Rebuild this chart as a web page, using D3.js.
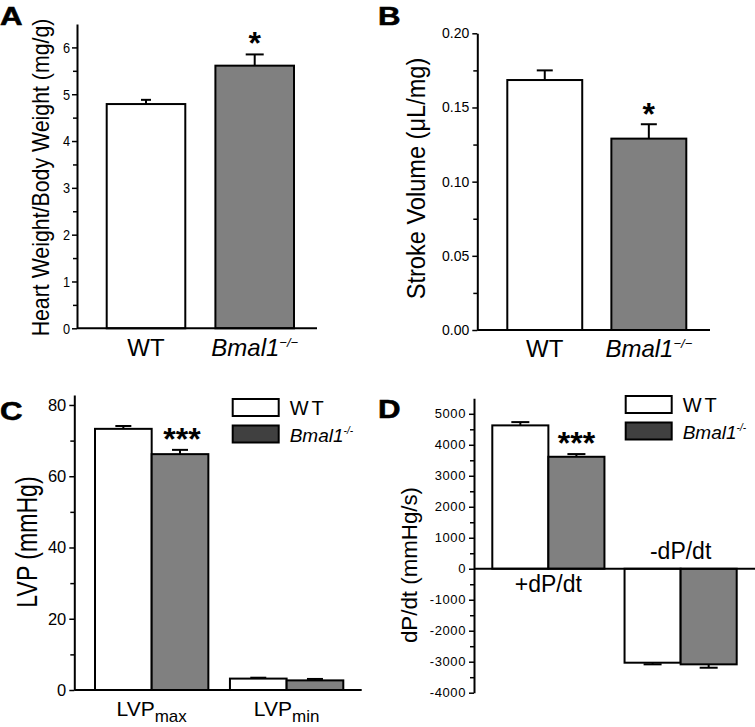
<!DOCTYPE html>
<html>
<head>
<meta charset="utf-8">
<script src="https://cdn.jsdelivr.net/npm/d3@7"></script>
<style>
  body { margin: 0; background: #fff; }
  svg { display: block; }
  text { font-family: "Liberation Sans", Arial, sans-serif; fill: #000; }
</style>
</head>
<body>
<script>
// ---- data ----
var hwCategories = ["WT", "Bmal1"];
var hwMeans = [4.79, 5.61];
var hwErrors = [0.09, 0.24];
var hwTicks = [0, 1, 2, 3, 4, 5, 6];

var svCategories = ["WT", "Bmal1"];
var svMeans = [0.1685, 0.129];
var svErrors = [0.0065, 0.0097];
var svTicks = [0, 0.05, 0.10, 0.15, 0.20];

var lvpGroups = ["LVPmax", "LVPmin"];
var lvpWT = [73.3, 3.2];
var lvpWTErr = [0.8, 0.25];
var lvpKO = [66.2, 2.7];
var lvpKOErr = [1.2, 0.4];
var lvpTicks = [0, 20, 40, 60, 80];

var dpGroups = ["+dP/dt", "-dP/dt"];
var dpWT = [4626, -3032];
var dpWTErr = [106, 53];
var dpKO = [3613, -3085];
var dpKOErr = [87, 109];
var dpTicks = [-4000, -3000, -2000, -1000, 0, 1000, 2000, 3000, 4000, 5000];

var series = ["WT", "Bmal1"];
var fills = { WT: "#ffffff", Bmal1: "#808080" };

var svg = d3.select("body").append("svg")
    .attr("width", 755).attr("height", 727);

// y axis with major labelled ticks and small unlabelled minor ticks
function drawYAxis(g, y, major, minor, fmt, size, sx, spacing) {
    g.append("g")
        .call(d3.axisLeft(y).tickValues(minor).tickFormat("").tickSize(4).tickSizeOuter(0))
        .call(function(a) { a.select(".domain").remove(); })
        .selectAll("line").attr("stroke-width", 1.5);
    var ax = g.append("g")
        .call(d3.axisLeft(y).tickValues(major).tickFormat(fmt).tickSize(5).tickSizeOuter(0).tickPadding(3));
    ax.select(".domain").attr("stroke-width", 2);
    ax.selectAll("line").attr("stroke-width", 1.5);
    ax.selectAll("text")
        .attr("font-family", "'Liberation Sans', Arial, sans-serif")
        .attr("font-size", size)
        .attr("letter-spacing", spacing || 0)
        .attr("transform", "scale(" + (sx || 1) + ",1)");
}

function bar(g, x0, w, y, v, e, fill, cap) {
    var y0 = y(0), y1 = y(v), ye = v >= 0 ? y(v + e) : y(v - e);
    var cx = x0 + w / 2;
    g.append("line").attr("x1", cx).attr("x2", cx).attr("y1", y1).attr("y2", ye)
        .attr("stroke", "#000").attr("stroke-width", 2);
    g.append("line").attr("x1", cx - cap / 2).attr("x2", cx + cap / 2).attr("y1", ye).attr("y2", ye)
        .attr("stroke", "#000").attr("stroke-width", 2);
    g.append("rect")
        .attr("x", x0).attr("width", w)
        .attr("y", Math.min(y0, y1)).attr("height", Math.abs(y0 - y1))
        .attr("fill", fill).attr("stroke", "#000").attr("stroke-width", 2);
    return ye;
}

function koLabel(sel, supSize, dy, sup) {
    sel.append("tspan").attr("font-style", "italic").text("Bmal1");
    sel.append("tspan").attr("font-style", "italic").attr("font-size", supSize).attr("dy", dy).text(sup);
}

function panelLetter(x, y, s) {
    svg.append("text")
        .attr("transform", "translate(" + x + "," + y + ") scale(1.2,1)")
        .attr("font-size", 26).attr("font-weight", "bold")
        .attr("stroke", "#000").attr("stroke-width", 0.6)
        .text(s);
}

// rotated axis title; sx squeezes it along its length (the original uses a narrow face)
function yLabel(x, y, s, size, sx, spacing) {
    svg.append("text")
        .attr("transform", "translate(" + x + "," + y + ") rotate(-90) scale(" + sx + ",1)")
        .attr("text-anchor", "middle").attr("font-size", size)
        .attr("letter-spacing", spacing || 0)
        .text(s);
}

function stars(g, x, y, s) {
    g.append("text").attr("x", x).attr("y", y)
        .attr("text-anchor", "middle").attr("font-size", 32).attr("font-weight", "bold").text(s);
}

function legend(x, y) {
    var g = svg.append("g").attr("transform", "translate(" + x + "," + y + ")");
    g.append("rect").attr("x", 0).attr("y", 0).attr("width", 46).attr("height", 17)
        .attr("fill", "#fff").attr("stroke", "#000").attr("stroke-width", 2);
    g.append("rect").attr("x", 0).attr("y", 26.5).attr("width", 46).attr("height", 17)
        .attr("fill", "#404040").attr("stroke", "#000").attr("stroke-width", 2);
    g.append("text").attr("x", 57).attr("y", 16).attr("font-size", 20)
        .attr("letter-spacing", 3).text("WT");
    var t = g.append("text").attr("x", 57).attr("y", 43).attr("font-size", 19);
    koLabel(t, 10, -8, "-/-");
}

// ---- panel A ----
(function() {
    var left = 77, bottom = 328.3, top = 24, right = 317;
    var g = svg.append("g");
    var y = d3.scaleLinear().domain([0, 6.5]).range([bottom, top]);
    var x = d3.scaleBand().domain(hwCategories).range([106.7, 294]).paddingInner(0.277);
    drawYAxis(g.append("g").attr("transform", "translate(" + left + ",0)"), y,
        hwTicks, d3.range(0.5, 6.5, 1), d3.format("d"), 15, 0.85);
    var caps = [10, 18];
    hwCategories.forEach(function(c, i) {
        var ye = bar(g, x(c), x.bandwidth(), y, hwMeans[i], hwErrors[i], fills[series[i]], caps[i]);
        if (i === 1) stars(g, x(c) + x.bandwidth() / 2, ye, "*");
    });
    g.append("line").attr("x1", left).attr("x2", right).attr("y1", bottom).attr("y2", bottom)
        .attr("stroke", "#000").attr("stroke-width", 2);
    g.append("text").attr("x", x("WT") + x.bandwidth() / 2).attr("y", bottom + 28)
        .attr("text-anchor", "middle").attr("font-size", 24).text("WT");
    var t = g.append("text").attr("x", x("Bmal1") + x.bandwidth() / 2).attr("y", bottom + 28)
        .attr("text-anchor", "middle").attr("font-size", 24);
    koLabel(t, 13, -9, "\u2212/\u2212");
    yLabel(49.3, 177.5, "Heart Weight/Body Weight (mg/g)", 24.5, 0.87);
    panelLetter(0, 25, "A");
})();

// ---- panel B ----
(function() {
    var left = 477.3, bottom = 330, top = 33.3, right = 710;
    var g = svg.append("g");
    var y = d3.scaleLinear().domain([0, 0.20]).range([bottom, top]);
    var x = d3.scaleBand().domain(svCategories).range([507.3, 686.3]).paddingInner(0.28);
    drawYAxis(g.append("g").attr("transform", "translate(" + left + ",0)"), y,
        svTicks, d3.range(0.025, 0.2, 0.05), d3.format(".2f"), 14, 1);
    svCategories.forEach(function(c, i) {
        var ye = bar(g, x(c), x.bandwidth(), y, svMeans[i], svErrors[i], fills[series[i]], 16);
        if (i === 1) stars(g, x(c) + x.bandwidth() / 2, ye + 1, "*");
    });
    g.append("line").attr("x1", left).attr("x2", right).attr("y1", bottom).attr("y2", bottom)
        .attr("stroke", "#000").attr("stroke-width", 2);
    g.append("text").attr("x", x("WT") + x.bandwidth() / 2).attr("y", bottom + 27)
        .attr("text-anchor", "middle").attr("font-size", 24).text("WT");
    var t = g.append("text").attr("x", x("Bmal1") + x.bandwidth() / 2).attr("y", bottom + 27)
        .attr("text-anchor", "middle").attr("font-size", 24);
    koLabel(t, 13, -9, "\u2212/\u2212");
    yLabel(425, 178.5, "Stroke Volume (\u03bcL/mg)", 26.5, 0.89);
    panelLetter(378, 25, "B");
})();

// ---- panel C ----
(function() {
    var left = 74.3, bottom = 690, top = 395, right = 361.7;
    var g = svg.append("g");
    var y = d3.scaleLinear().domain([0, 82.8]).range([bottom, top]);
    var x0 = d3.scaleBand().domain(lvpGroups).range([95, 343.3]).paddingInner(0.16);
    var x1 = d3.scaleBand().domain(series).range([0, x0.bandwidth()]);
    drawYAxis(g.append("g").attr("transform", "translate(" + left + ",0)"), y,
        lvpTicks, d3.range(10, 81, 20), d3.format("d"), 16.5, 1);
    lvpGroups.forEach(function(grp, i) {
        bar(g, x0(grp) + x1("WT"), x1.bandwidth(), y, lvpWT[i], lvpWTErr[i], fills.WT, 16);
        var ye = bar(g, x0(grp) + x1("Bmal1"), x1.bandwidth(), y, lvpKO[i], lvpKOErr[i], fills.Bmal1, 16);
        if (i === 0) stars(g, x0(grp) + x1("Bmal1") + x1.bandwidth() / 2 + 2, ye, "***");
    });
    g.append("line").attr("x1", left).attr("x2", right).attr("y1", bottom).attr("y2", bottom)
        .attr("stroke", "#000").attr("stroke-width", 2);
    [["LVP", "max"], ["LVP", "min"]].forEach(function(p, i) {
        var t = g.append("text").attr("x", x0(lvpGroups[i]) + x0.bandwidth() / 2).attr("y", bottom + 26)
            .attr("text-anchor", "middle").attr("font-size", 21);
        t.append("tspan").text(p[0]);
        t.append("tspan").attr("font-size", 17).attr("dy", 6).text(p[1]);
    });
    yLabel(36.7, 542, "LVP (mmHg)", 30, 0.77);
    legend(232.7, 399);
    panelLetter(0, 420, "C");
})();

// ---- panel D ----
(function() {
    var left = 474, top = 398.3, bottom = 692.7, right = 755;
    var g = svg.append("g");
    var y = d3.scaleLinear().domain([-4000, 5500]).range([bottom, top]);
    var x0 = d3.scaleBand().domain(dpGroups).range([492.3, 736.7]).paddingInner(0.152);
    var x1 = d3.scaleBand().domain(series).range([0, x0.bandwidth()]);
    drawYAxis(g.append("g").attr("transform", "translate(" + left + ",0)"), y,
        dpTicks, d3.range(-3500, 5001, 1000), function(d) { return String(d); }, 13, 1, 0.6);
    dpGroups.forEach(function(grp, i) {
        bar(g, x0(grp) + x1("WT"), x1.bandwidth(), y, dpWT[i], dpWTErr[i], fills.WT, 18);
        var ye = bar(g, x0(grp) + x1("Bmal1"), x1.bandwidth(), y, dpKO[i], dpKOErr[i], fills.Bmal1, 18);
        if (i === 0) stars(g, x0(grp) + x1("Bmal1") + x1.bandwidth() / 2, ye, "***");
    });
    g.append("line").attr("x1", left).attr("x2", right).attr("y1", y(0)).attr("y2", y(0))
        .attr("stroke", "#000").attr("stroke-width", 2);
    g.append("text").attr("x", x0("+dP/dt") + x0.bandwidth() / 2).attr("y", y(0) + 23)
        .attr("text-anchor", "middle").attr("font-size", 23).text("+dP/dt");
    g.append("text").attr("x", x0("-dP/dt") + x0.bandwidth() / 2).attr("y", y(0) - 10)
        .attr("text-anchor", "middle").attr("font-size", 23).text("-dP/dt");
    yLabel(416.7, 565, "dP/dt (mmHg/s)", 23, 0.97);
    legend(625.7, 396);
    panelLetter(378, 418, "D");
})();
</script>
</body>
</html>
